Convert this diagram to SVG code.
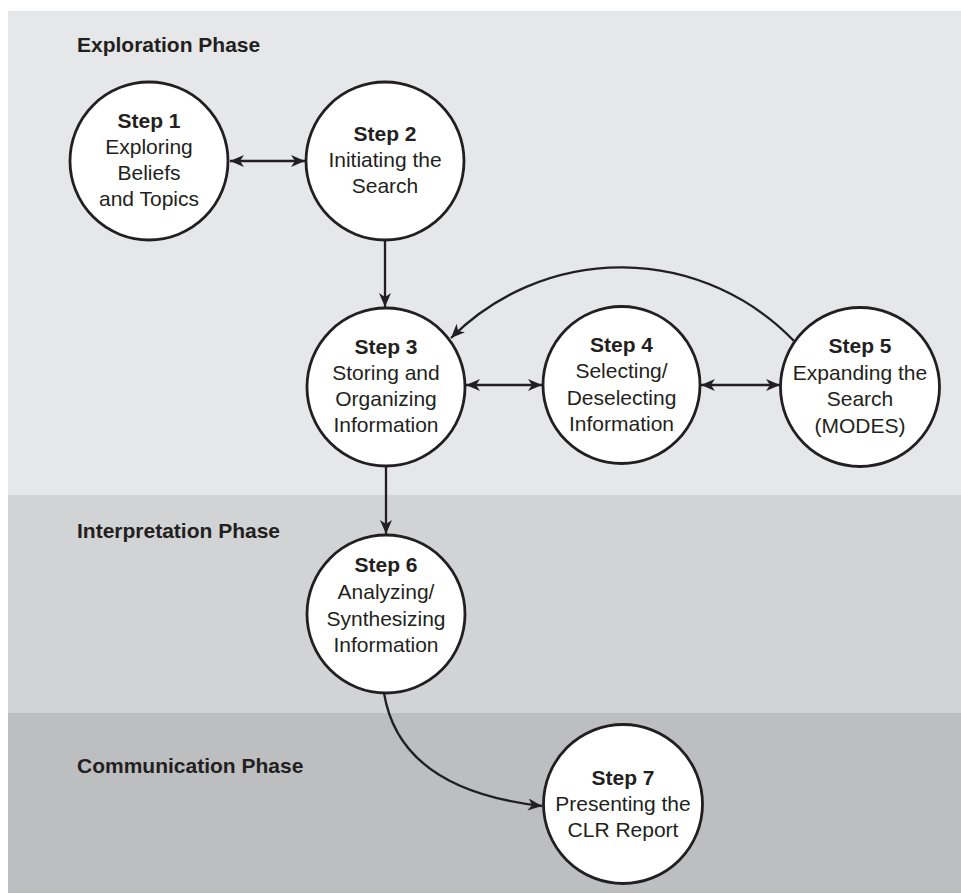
<svg xmlns="http://www.w3.org/2000/svg" width="961" height="894" viewBox="0 0 961 894">
  <style>
    .node circle { fill: #ffffff; stroke: #231f20; stroke-width: 2.8; }
    .node text { font-family: "Liberation Sans", Arial, sans-serif; font-size: 21px; fill: #231f20; text-anchor: middle; }
    .node text .b { font-weight: bold; }
    .phase { font-family: "Liberation Sans", Arial, sans-serif; font-size: 21px; font-weight: bold; fill: #231f20; }
    .conn { fill: none; stroke: #231f20; stroke-width: 2.3; }
  </style>
  <defs>
    <marker id="ah" markerUnits="userSpaceOnUse" markerWidth="16" markerHeight="14" refX="14" refY="6" orient="auto-start-reverse">
      <path d="M0,0 L14,6 L0,12 L4,6 Z" fill="#231f20"/>
    </marker>
  </defs>

  <g id="background">
    <rect x="8" y="11" width="953" height="484" fill="#e6e7e8"/>
    <rect x="8" y="495" width="953" height="218" fill="#d1d3d4"/>
    <rect x="8" y="713" width="953" height="180" fill="#bcbec0"/>
    <text class="phase" x="77" y="52">Exploration Phase</text>
    <text class="phase" x="77" y="538">Interpretation Phase</text>
    <text class="phase" x="77" y="773">Communication Phase</text>
  </g>

  <g id="connectors">
    <line class="conn" x1="230" y1="161" x2="305" y2="161" marker-start="url(#ah)" marker-end="url(#ah)"/>
    <line class="conn" x1="385" y1="240" x2="385" y2="307" marker-end="url(#ah)"/>
    <line class="conn" x1="466" y1="385" x2="542" y2="385" marker-start="url(#ah)" marker-end="url(#ah)"/>
    <line class="conn" x1="701" y1="385" x2="780" y2="385" marker-start="url(#ah)" marker-end="url(#ah)"/>
    <path class="conn" d="M794,341 A240,240 0 0 0 451,338" marker-end="url(#ah)"/>
    <line class="conn" x1="386" y1="466" x2="386" y2="534" marker-end="url(#ah)"/>
    <path class="conn" d="M384,693 Q400,790 542,806" marker-end="url(#ah)"/>
  </g>

  <g id="step1" class="node">
    <circle cx="149" cy="161" r="79"/>
    <text x="149" y="128"><tspan class="b">Step 1</tspan></text>
    <text x="149" y="154">Exploring</text>
    <text x="149" y="180">Beliefs</text>
    <text x="149" y="206">and Topics</text>
  </g>

  <g id="step2" class="node">
    <circle cx="385" cy="161" r="79"/>
    <text x="385" y="141"><tspan class="b">Step 2</tspan></text>
    <text x="385" y="167">Initiating the</text>
    <text x="385" y="193">Search</text>
  </g>

  <g id="step3" class="node">
    <circle cx="386" cy="387" r="79"/>
    <text x="386" y="354"><tspan class="b">Step 3</tspan></text>
    <text x="386" y="380">Storing and</text>
    <text x="386" y="406">Organizing</text>
    <text x="386" y="432">Information</text>
  </g>

  <g id="step4" class="node">
    <circle cx="621.5" cy="385" r="78.5"/>
    <text x="621.5" y="352"><tspan class="b">Step 4</tspan></text>
    <text x="621.5" y="378">Selecting/</text>
    <text x="621.5" y="405">Deselecting</text>
    <text x="621.5" y="431">Information</text>
  </g>

  <g id="step5" class="node">
    <circle cx="860" cy="387" r="79.5"/>
    <text x="860" y="353"><tspan class="b">Step 5</tspan></text>
    <text x="860" y="380">Expanding the</text>
    <text x="860" y="406">Search</text>
    <text x="860" y="433">(MODES)</text>
  </g>

  <g id="step6" class="node">
    <circle cx="386" cy="614" r="79"/>
    <text x="386" y="572"><tspan class="b">Step 6</tspan></text>
    <text x="386" y="599">Analyzing/</text>
    <text x="386" y="626">Synthesizing</text>
    <text x="386" y="652">Information</text>
  </g>

  <g id="step7" class="node">
    <circle cx="623" cy="804" r="79.5"/>
    <text x="623" y="785"><tspan class="b">Step 7</tspan></text>
    <text x="623" y="811">Presenting the</text>
    <text x="623" y="837">CLR Report</text>
  </g>
</svg>
